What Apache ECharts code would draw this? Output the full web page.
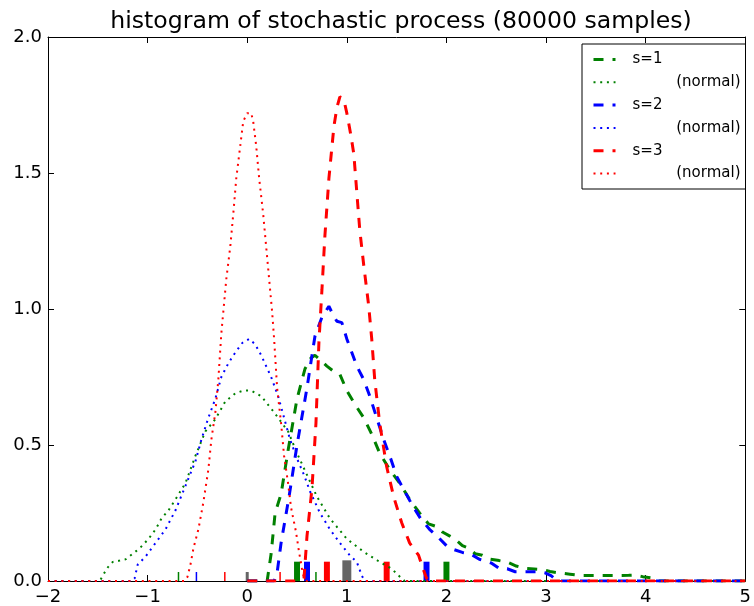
<!DOCTYPE html>
<html>
<head>
<meta charset="utf-8">
<script src="https://cdn.jsdelivr.net/npm/echarts@6/dist/echarts.min.js"></script>
<style>
  html, body { margin: 0; padding: 0; background: #fff; }
  #chart { width: 754px; height: 606px; }
</style>
</head>
<body>
<div id="chart"></div>
<script>
// Histogram curves of the stochastic process for s = 1, 2, 3 and their normal counterparts.

const s1X = [0, 0.2, 0.24, 0.28, 0.34, 0.41, 0.5, 0.58, 0.64, 0.68, 0.74, 0.8, 0.87, 0.93, 1.0, 1.08, 1.17, 1.25, 1.33, 1.43, 1.53, 1.63, 1.73, 1.82, 1.9, 1.96, 2.03, 2.1, 2.16, 2.23, 2.29, 2.36, 2.44, 2.53, 2.62, 2.7, 2.79, 2.88, 2.96, 3.04, 3.12, 3.24, 3.36, 3.46, 3.56, 3.66, 3.76, 3.83, 3.89, 3.97, 4.05, 4.12, 4.2, 5];
const s1Y = [0, 0, 0.1, 0.25, 0.32, 0.48, 0.67, 0.78, 0.82, 0.83, 0.81, 0.79, 0.77, 0.76, 0.70, 0.65, 0.60, 0.54, 0.47, 0.41, 0.36, 0.30, 0.25, 0.21, 0.20, 0.18, 0.166, 0.15, 0.13, 0.12, 0.10, 0.095, 0.08, 0.075, 0.068, 0.055, 0.046, 0.044, 0.042, 0.035, 0.03, 0.025, 0.02, 0.02, 0.02, 0.02, 0.02, 0.021, 0.022, 0.016, 0.012, 0, 0, 0];

const s2X = [0, 0.27, 0.3, 0.34, 0.42, 0.5, 0.6, 0.68, 0.75, 0.82, 0.86, 0.9, 0.95, 1.0, 1.05, 1.1, 1.17, 1.23, 1.3, 1.37, 1.44, 1.5, 1.58, 1.66, 1.74, 1.83, 1.92, 2.0, 2.08, 2.16, 2.24, 2.33, 2.45, 2.53, 2.61, 2.69, 2.78, 2.86, 2.94, 2.99, 3.05, 3.09, 3.12, 5];
const s2Y = [0, 0, 0.03, 0.14, 0.31, 0.50, 0.71, 0.90, 0.97, 1.01, 0.98, 0.955, 0.95, 0.89, 0.84, 0.79, 0.74, 0.68, 0.60, 0.52, 0.45, 0.385, 0.33, 0.277, 0.23, 0.19, 0.16, 0.13, 0.115, 0.105, 0.10, 0.08, 0.066, 0.046, 0.045, 0.034, 0.034, 0.034, 0.034, 0.03, 0.02, 0.008, 0, 0];

const s3X = [0, 0.52, 0.57, 0.6, 0.65, 0.69, 0.72, 0.75, 0.78, 0.82, 0.87, 0.9, 0.93, 0.97, 1.0, 1.04, 1.07, 1.1, 1.13, 1.17, 1.22, 1.25, 1.28, 1.33, 1.4, 1.47, 1.55, 1.63, 1.72, 1.76, 1.8, 1.84, 5];
const s3Y = [0, 0, 0.01, 0.165, 0.34, 0.58, 0.88, 1.07, 1.27, 1.48, 1.67, 1.74, 1.78, 1.77, 1.72, 1.64, 1.57, 1.43, 1.29, 1.16, 1.01, 0.89, 0.74, 0.58, 0.42, 0.31, 0.215, 0.14, 0.095, 0.05, 0.01, 0, 0];

const n1X = [-2, -1.48, -1.45, -1.4, -1.35, -1.28, -1.22, -1.15, -1.08, -0.99, -0.92, -0.86, -0.79, -0.72, -0.62, -0.52, -0.42, -0.32, -0.22, -0.12, -0.04, 0.04, 0.14, 0.27, 0.41, 0.5, 0.6, 0.7, 0.83, 1.0, 1.17, 1.33, 1.45, 1.52, 1.58, 5];
const n1Y = [0, 0, 0.02, 0.05, 0.07, 0.075, 0.08, 0.1, 0.12, 0.155, 0.19, 0.23, 0.26, 0.30, 0.36, 0.46, 0.55, 0.595, 0.66, 0.69, 0.70, 0.70, 0.68, 0.62, 0.55, 0.47, 0.39, 0.31, 0.23, 0.155, 0.107, 0.07, 0.045, 0.02, 0, 0];

const n2X = [-2, -1.16, -1.13, -1.1, -1.02, -0.92, -0.82, -0.72, -0.62, -0.52, -0.46, -0.39, -0.32, -0.26, -0.19, -0.12, -0.05, 0.02, 0.08, 0.14, 0.24, 0.31, 0.37, 0.43, 0.5, 0.57, 0.63, 0.73, 0.83, 0.93, 1.03, 1.1, 1.15, 1.18, 5];
const n2Y = [0, 0, 0.01, 0.06, 0.09, 0.14, 0.19, 0.26, 0.35, 0.44, 0.52, 0.60, 0.67, 0.75, 0.80, 0.84, 0.875, 0.89, 0.87, 0.83, 0.75, 0.68, 0.60, 0.52, 0.45, 0.39, 0.33, 0.25, 0.19, 0.14, 0.094, 0.07, 0.02, 0, 0];

const n3X = [-2, -0.63, -0.6, -0.57, -0.54, -0.49, -0.44, -0.39, -0.36, -0.32, -0.29, -0.26, -0.24, -0.21, -0.17, -0.14, -0.11, -0.07, -0.04, 0, 0.04, 0.06, 0.09, 0.12, 0.16, 0.19, 0.22, 0.25, 0.27, 0.3, 0.34, 0.37, 0.41, 0.44, 0.49, 0.52, 0.55, 0.57, 0.6, 5];
const n3Y = [0, 0, 0.015, 0.06, 0.12, 0.19, 0.29, 0.41, 0.52, 0.62, 0.74, 0.91, 0.99, 1.11, 1.23, 1.35, 1.48, 1.6, 1.69, 1.72, 1.72, 1.69, 1.6, 1.48, 1.35, 1.23, 1.11, 0.99, 0.89, 0.71, 0.58, 0.46, 0.36, 0.27, 0.18, 0.107, 0.045, 0.01, 0, 0];

// Point masses near the axis: [position, height]
const spikeThinGreen = [[-0.69, 0.033], [0.69, 0.033]];
const spikeWideGreen = [[0.50, 0.071], [2.00, 0.071]];
const spikeThinBlue = [[-0.51, 0.033]];
const spikeWideBlue = [[0.60, 0.071], [1.80, 0.071]];
const spikeThinRed = [[-0.225, 0.033], [0.33, 0.033]];
const spikeWideRed = [[0.80, 0.071], [1.40, 0.071]];
const spikeThinGray = [[0.00, 0.033]];
const spikeWideGray = [[1.00, 0.076]];

const seriesNames = ['s=1', 's=1 (normal)', 's=2', 's=2 (normal)', 's=3', 's=3 (normal)'];

const GREEN = '#008000', BLUE = '#0000ff', RED = '#ff0000', GRAY = '#666666';
const FONT = 'DejaVu Sans';
const DASH = [10, 9];
const DOT = [2, 4.7];

const zip = (xs, ys) => xs.map((x, i) => [x, ys[i]]);

function curve(name, xs, ys, color, dash, width) {
  return {
    name, type: 'line', data: zip(xs, ys),
    symbol: 'none', showSymbol: false, smooth: false, z: 5,
    lineStyle: { color, width, type: dash, cap: 'butt' },
    itemStyle: { color },
    emphasis: { disabled: true },
    animation: false
  };
}

function spikes(data, color, widthUnits) {
  return {
    type: 'custom', data, z: 2, animation: false, silent: true,
    renderItem(params, api) {
      const x = api.value(0), h = api.value(1);
      const p0 = api.coord([x - widthUnits / 2, h]);
      const p1 = api.coord([x + widthUnits / 2, 0]);
      return {
        type: 'rect',
        shape: { x: p0[0], y: p0[1], width: p1[0] - p0[0], height: p1[1] - p0[1] },
        style: { fill: color }
      };
    }
  };
}

const minus = v => String(v).replace('-', '\u2212');

const chart = echarts.init(document.getElementById('chart'), null, { renderer: 'canvas' });
chart.setOption({
  backgroundColor: '#ffffff',
  animation: false,
  title: {
    text: 'histogram of stochastic process (80000 samples)',
    left: 401, top: 10, padding: 0, textAlign: 'center',
    textStyle: { fontFamily: FONT, fontSize: 23.6, fontWeight: 'normal', color: '#000' }
  },
  grid: { left: 48, right: 2, top: 37, bottom: 24, containLabel: false },
  legend: {
    data: seriesNames,
    orient: 'vertical',
    left: 582, top: 44,
    padding: [8, 5, 8, 10],
    itemGap: 7.8,
    itemWidth: 22, itemHeight: 14,
    borderColor: '#000', borderWidth: 1, backgroundColor: '#fff',
    selectedMode: false,
    itemStyle: { color: 'rgba(0,0,0,0)', borderWidth: 0, opacity: 0 },
    lineStyle: { width: 'inherit' },
    formatter: name => name.indexOf('normal') >= 0 ? '{b|(normal)}' : '{a|' + name + '}',
    textStyle: {
      fontFamily: FONT, fontSize: 15, color: '#000',
      rich: {
        a: { fontFamily: FONT, fontSize: 15, width: 108, padding: [0, 0, 0, 12], align: 'left' },
        b: { fontFamily: FONT, fontSize: 15, width: 120, align: 'right' }
      }
    }
  },
  xAxis: [
    {
      type: 'value', min: -2, max: 5, interval: 1, position: 'bottom',
      axisLine: { show: true, onZero: false, lineStyle: { color: '#000', width: 1 } },
      axisTick: { show: true, inside: true, length: 6, lineStyle: { color: '#000' } },
      axisLabel: { margin: 7, fontFamily: FONT, fontSize: 18, color: '#000', formatter: v => minus(v) },
      splitLine: { show: false }
    },
    {
      type: 'value', min: -2, max: 5, interval: 1, position: 'top',
      axisLine: { show: true, onZero: false, lineStyle: { color: '#000', width: 1 } },
      axisTick: { show: true, inside: true, length: 6, lineStyle: { color: '#000' } },
      axisLabel: { show: false },
      splitLine: { show: false }
    }
  ],
  yAxis: [
    {
      type: 'value', min: 0, max: 2, interval: 0.5, position: 'left',
      axisLine: { show: true, onZero: false, lineStyle: { color: '#000', width: 1 } },
      axisTick: { show: true, inside: true, length: 6, lineStyle: { color: '#000' } },
      axisLabel: { margin: 6, fontFamily: FONT, fontSize: 18, color: '#000', formatter: v => v.toFixed(1) },
      splitLine: { show: false }
    },
    {
      type: 'value', min: 0, max: 2, interval: 0.5, position: 'right',
      axisLine: { show: true, onZero: false, lineStyle: { color: '#000', width: 1 } },
      axisTick: { show: true, inside: true, length: 6, lineStyle: { color: '#000' } },
      axisLabel: { show: false },
      splitLine: { show: false }
    }
  ],
  series: [
    spikes(spikeThinGreen, GREEN, 0.015),
    spikes(spikeWideGreen, GREEN, 0.06),
    spikes(spikeThinBlue, BLUE, 0.015),
    spikes(spikeWideBlue, BLUE, 0.06),
    spikes(spikeThinRed, RED, 0.015),
    spikes(spikeWideRed, RED, 0.06),
    spikes(spikeThinGray, GRAY, 0.03),
    spikes(spikeWideGray, GRAY, 0.09),
    curve(seriesNames[0], s1X, s1Y, GREEN, DASH, 3),
    curve(seriesNames[1], n1X, n1Y, GREEN, DOT, 2),
    curve(seriesNames[2], s2X, s2Y, BLUE, DASH, 3),
    curve(seriesNames[3], n2X, n2Y, BLUE, DOT, 2),
    curve(seriesNames[4], s3X, s3Y, RED, DASH, 3),
    curve(seriesNames[5], n3X, n3Y, RED, DOT, 2)
  ]
});
</script>
</body>
</html>
